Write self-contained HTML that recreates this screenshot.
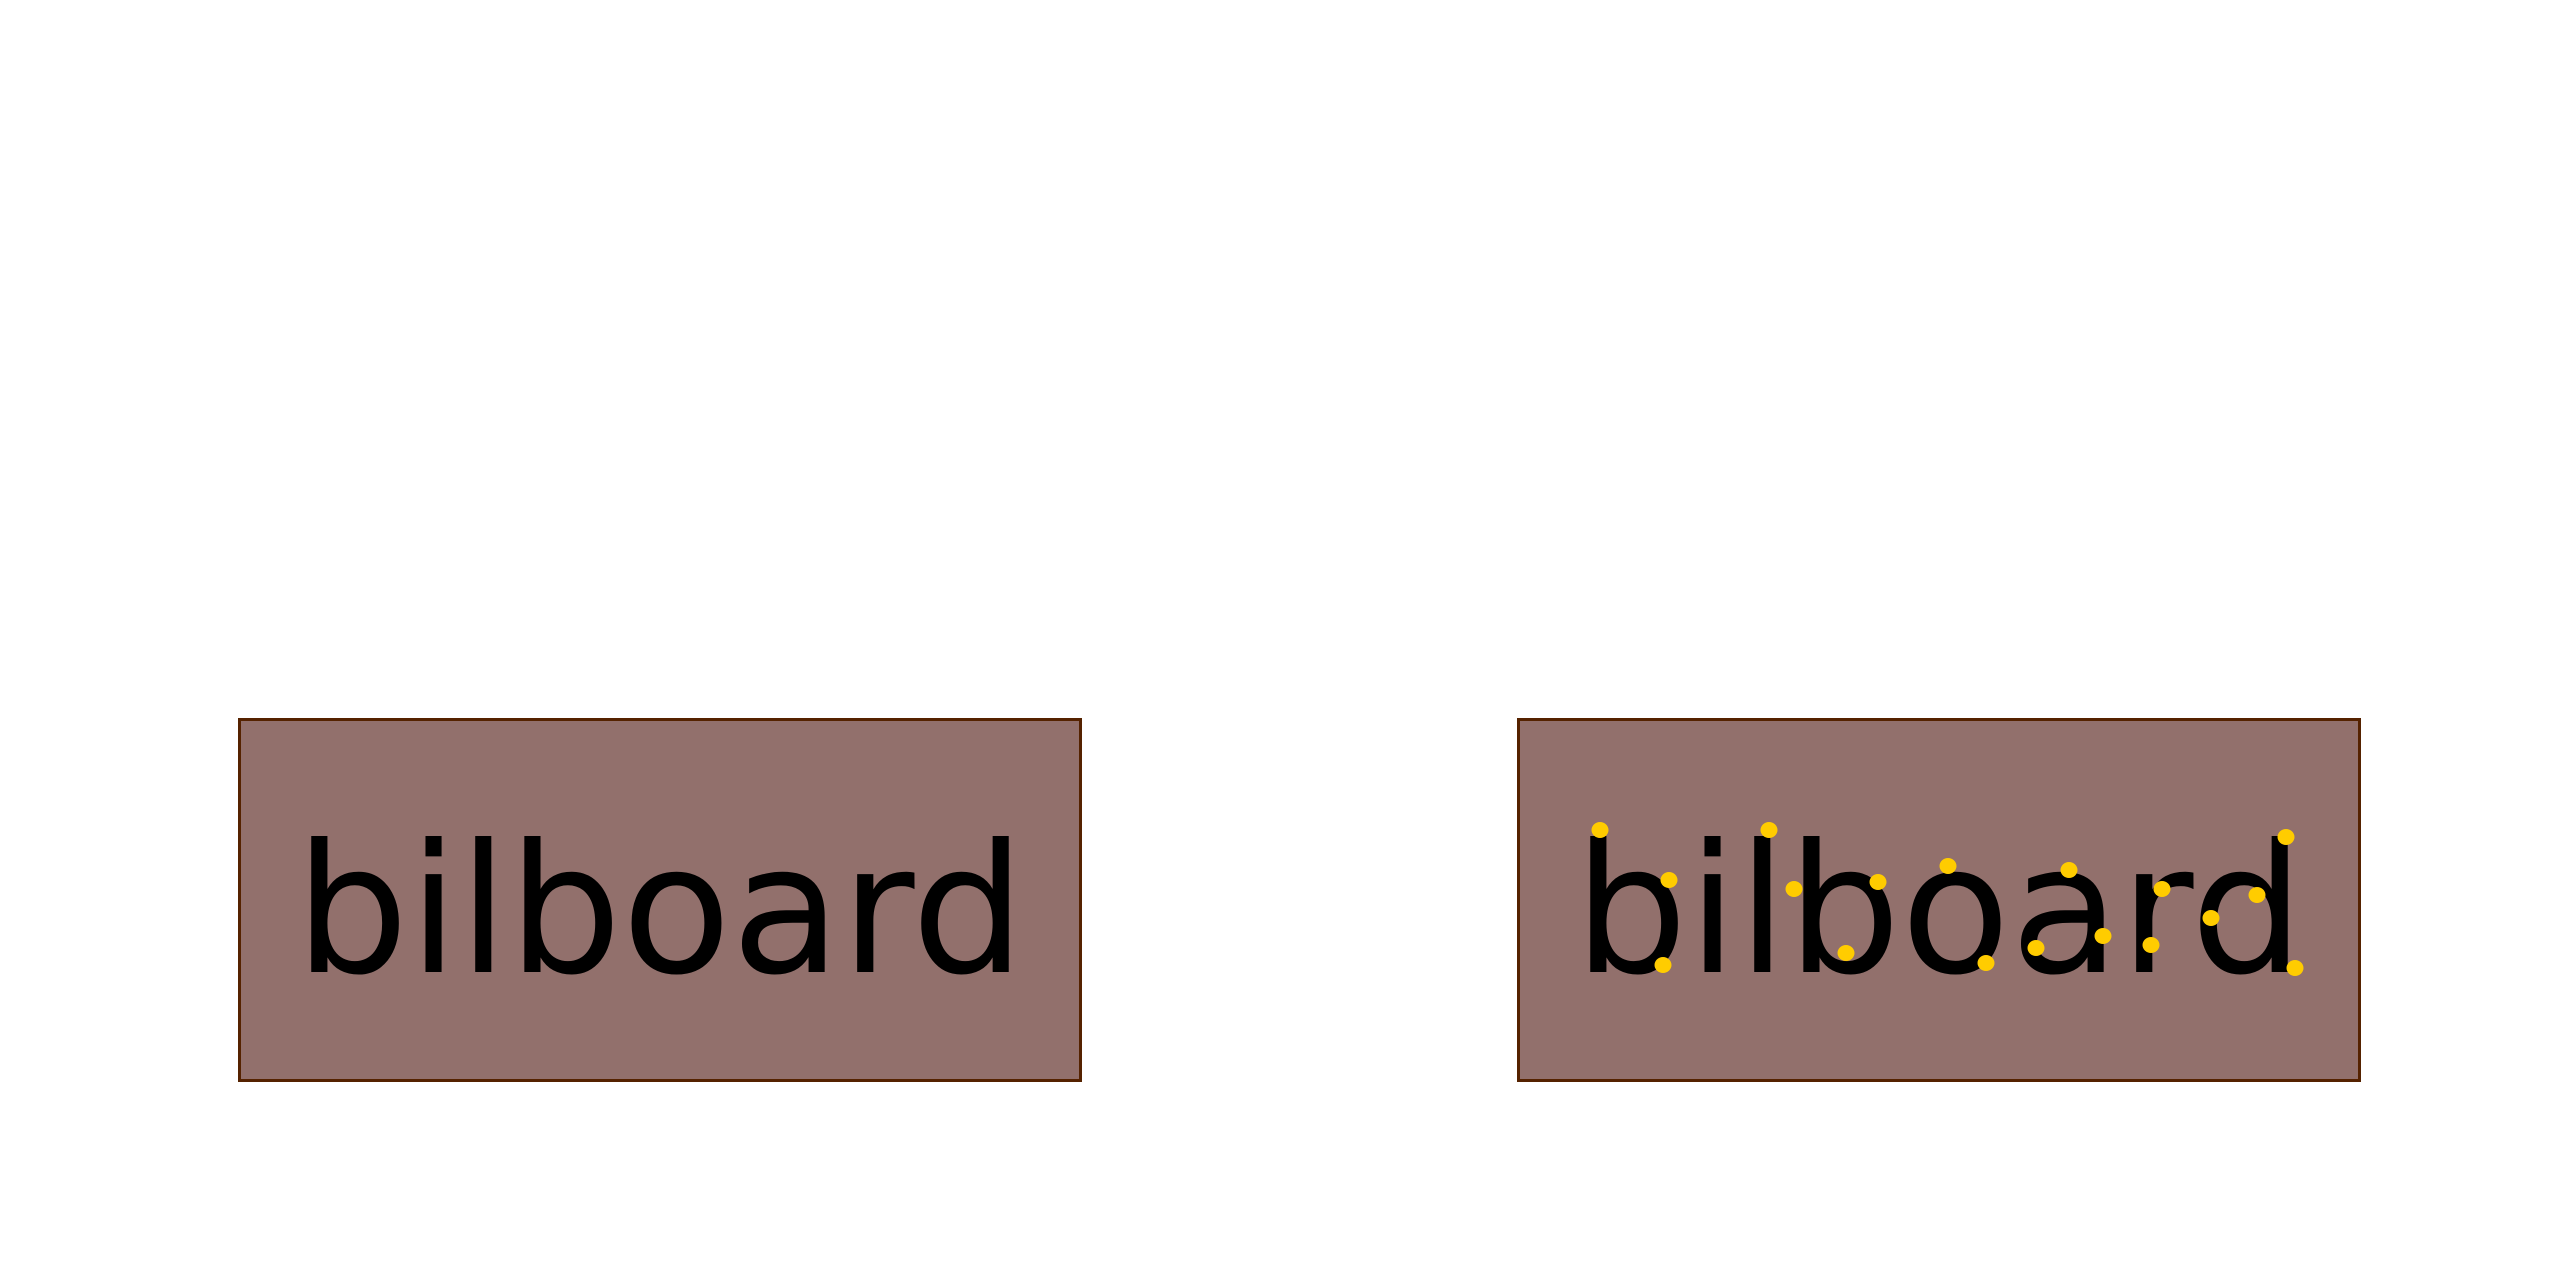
<!DOCTYPE html>
<html><head><meta charset="utf-8"><style>html,body{margin:0;padding:0;background:#fff;}svg{display:block;}</style></head>
<body>
<svg width="2560" height="1280" viewBox="0 0 2560 1280" xmlns="http://www.w3.org/2000/svg">
<rect x="0" y="0" width="2560" height="1280" fill="#fff"/>
<rect x="239.5" y="719.5" width="841" height="361" fill="#92706c" stroke="#552200" stroke-width="3"/>
<rect x="1518.5" y="719.5" width="841" height="361" fill="#92706c" stroke="#552200" stroke-width="3"/>
<text x="660" y="972" text-anchor="middle" font-family="DejaVu Sans, sans-serif" font-size="179" fill="#000">bilboard</text>
<text x="1939" y="972" text-anchor="middle" font-family="DejaVu Sans, sans-serif" font-size="179" fill="#000">bilboard</text>
<g fill="#ffcc00">
<ellipse cx="1600" cy="830" rx="8.5" ry="8"/>
<ellipse cx="1669" cy="880" rx="8.5" ry="8"/>
<ellipse cx="1663" cy="965" rx="8.5" ry="8"/>
<ellipse cx="1769" cy="830" rx="8.5" ry="8"/>
<ellipse cx="1794" cy="889" rx="8.5" ry="8"/>
<ellipse cx="1878" cy="882" rx="8.5" ry="8"/>
<ellipse cx="1846" cy="953" rx="8.5" ry="8"/>
<ellipse cx="1948" cy="866" rx="8.5" ry="8"/>
<ellipse cx="1986" cy="963" rx="8.5" ry="8"/>
<ellipse cx="2069" cy="870" rx="8.5" ry="8"/>
<ellipse cx="2036" cy="948" rx="8.5" ry="8"/>
<ellipse cx="2103" cy="936" rx="8.5" ry="8"/>
<ellipse cx="2162" cy="889" rx="8.5" ry="8"/>
<ellipse cx="2151" cy="945" rx="8.5" ry="8"/>
<ellipse cx="2211" cy="918" rx="8.5" ry="8"/>
<ellipse cx="2257" cy="895" rx="8.5" ry="8"/>
<ellipse cx="2286" cy="837" rx="8.5" ry="8"/>
<ellipse cx="2295" cy="968" rx="8.5" ry="8"/>
</g>
</svg>
</body></html>
